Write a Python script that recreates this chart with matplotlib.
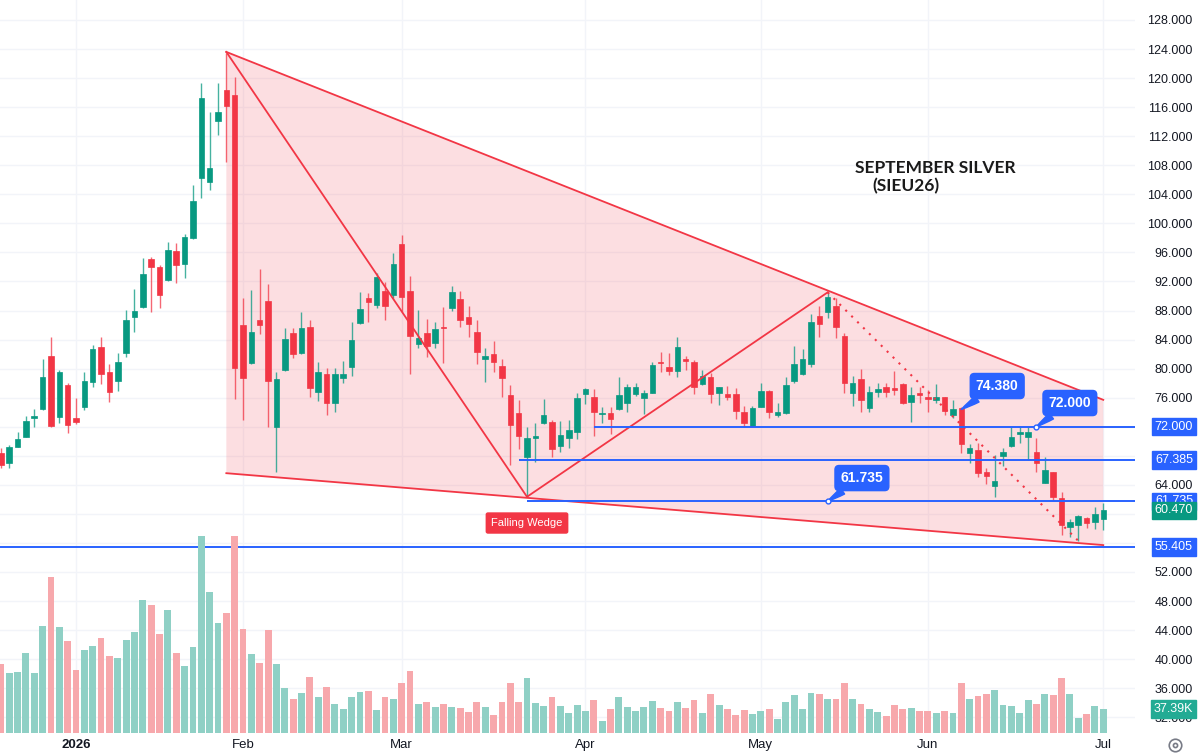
import matplotlib
matplotlib.use('Agg')
import matplotlib.pyplot as plt
import matplotlib.transforms as mtransforms
import numpy as np
import pandas as pd

plt.rcParams['font.family'] = ['Liberation Sans', 'DejaVu Sans']

# trading calendar (CME silver, daily bars)
holidays = ['2025-12-25', '2026-01-01', '2026-01-19', '2026-02-16',
            '2026-04-03', '2026-05-25', '2026-06-19']
dates = pd.date_range('2025-12-18', periods=133,
                      freq=pd.offsets.CustomBusinessDay(holidays=holidays))

opens = [
    68.37, 66.95, 69.24, 70.62, 73.26, 74.39, 81.73, 73.37, 77.74, 73.19,
    74.75, 78.19, 82.97, 79.57, 78.33, 82.14, 87.06, 88.52, 95.09, 93.98,
    92.19, 96.23, 94.40, 97.98, 106.24, 105.69, 114.13, 118.36, 117.67, 86.00,
    80.81, 86.69, 89.34, 71.99, 79.80, 84.86, 82.10, 85.76, 76.81, 79.25,
    75.22, 78.74, 80.17, 86.23, 89.67, 88.75, 90.72, 90.13, 97.11, 90.72,
    83.38, 84.86, 83.56, 85.76, 88.30, 89.58, 87.06, 84.99, 81.32, 82.00,
    80.39, 76.43, 73.84, 67.86, 70.48, 72.46, 72.60, 69.38, 70.40, 71.30,
    76.45, 76.13, 73.74, 73.84, 74.39, 75.30, 76.45, 75.90, 76.68, 80.86,
    80.17, 79.70, 81.32, 80.86, 77.83, 78.88, 76.59, 76.45, 76.50, 73.98,
    72.09, 74.75, 76.95, 73.60, 73.84, 78.33, 79.25, 80.70, 87.24, 87.83,
    88.62, 84.52, 76.70, 78.56, 74.53, 76.73, 77.50, 77.28, 77.83, 75.36,
    76.59, 76.04, 75.67, 76.04, 73.60, 74.61, 68.33, 68.79, 65.72, 63.87,
    67.96, 69.34, 70.99, 70.62, 68.55, 64.28, 65.72, 62.13, 58.14, 58.46,
    59.38, 58.83, 59.26]
highs = [
    69.06, 69.47, 71.26, 73.51, 74.43, 81.32, 84.35, 79.80, 78.01, 75.94,
    79.53, 83.24, 84.35, 80.63, 82.14, 88.06, 90.95, 95.22, 95.36, 94.26,
    97.43, 97.29, 98.53, 105.28, 119.36, 115.33, 119.32, 123.49, 120.19, 89.76,
    90.82, 93.71, 91.60, 79.57, 85.54, 85.54, 87.75, 86.69, 80.95, 80.04,
    80.04, 81.08, 86.37, 90.58, 90.36, 93.12, 91.96, 95.87, 98.39, 92.74,
    88.06, 86.83, 86.37, 88.43, 91.41, 90.72, 88.66, 86.69, 82.79, 83.84,
    81.32, 77.74, 75.67, 71.99, 72.46, 75.81, 72.92, 72.82, 72.92, 76.59,
    77.36, 77.14, 74.75, 74.67, 78.80, 77.87, 77.97, 77.05, 80.95, 82.32,
    82.18, 84.31, 81.73, 81.18, 79.80, 79.35, 77.50, 77.60, 77.28, 74.89,
    74.89, 77.97, 77.05, 75.22, 78.80, 83.15, 82.69, 87.52, 88.62, 90.54,
    89.67, 84.90, 79.04, 79.90, 77.60, 77.97, 77.97, 79.70, 77.97, 77.42,
    77.50, 77.05, 77.83, 76.13, 75.67, 74.75, 69.61, 69.71, 66.27, 68.10,
    69.02, 71.99, 71.91, 72.00, 70.40, 67.78, 65.80, 62.96, 59.24, 59.84,
    59.52, 60.98, 61.53]
lows = [
    66.31, 66.31, 69.20, 70.53, 71.95, 74.29, 72.00, 72.50, 71.13, 72.37,
    74.29, 77.50, 77.87, 75.39, 76.95, 81.63, 85.08, 88.40, 87.83, 88.34,
    92.10, 91.82, 92.47, 97.90, 103.49, 104.59, 112.16, 108.48, 75.77, 72.92,
    80.70, 84.72, 71.99, 65.72, 79.70, 81.41, 82.00, 76.13, 75.53, 73.60,
    73.98, 78.05, 79.02, 86.10, 86.37, 88.30, 86.69, 89.67, 87.83, 79.21,
    82.87, 81.63, 82.87, 80.72, 87.97, 85.68, 84.31, 80.63, 78.19, 79.48,
    76.13, 66.72, 68.88, 62.35, 67.17, 72.37, 67.86, 68.47, 69.02, 70.26,
    75.12, 70.71, 72.46, 70.99, 74.29, 74.06, 76.22, 73.74, 76.59, 79.48,
    79.11, 78.88, 79.80, 76.45, 77.74, 75.30, 74.98, 75.67, 73.01, 71.91,
    72.00, 74.70, 73.15, 73.37, 73.80, 78.05, 79.11, 80.26, 84.31, 86.92,
    84.17, 76.70, 74.84, 73.98, 73.98, 76.13, 76.13, 76.36, 75.12, 72.60,
    75.22, 74.06, 75.30, 73.60, 73.15, 68.33, 66.95, 65.11, 64.10, 62.27,
    66.62, 69.24, 69.79, 67.41, 65.80, 64.20, 61.90, 57.08, 56.85, 56.30,
    58.00, 57.91, 57.77]
closes = [
    66.72, 69.24, 70.30, 72.82, 73.37, 78.88, 72.09, 79.57, 72.23, 72.64,
    78.33, 82.69, 79.25, 76.81, 80.95, 86.69, 87.97, 93.02, 94.03, 90.13,
    96.33, 94.26, 98.12, 103.07, 117.26, 107.66, 115.33, 116.15, 80.12, 78.66,
    84.99, 86.00, 78.33, 78.56, 84.03, 82.00, 85.63, 77.36, 79.57, 75.22,
    79.25, 79.25, 83.93, 88.20, 89.12, 92.65, 88.66, 94.36, 89.89, 84.48,
    84.25, 83.11, 85.41, 85.62, 90.58, 86.69, 86.14, 82.32, 81.73, 80.97,
    78.66, 72.23, 70.71, 70.40, 70.71, 73.60, 68.92, 70.85, 71.54, 75.90,
    77.14, 73.98, 73.92, 73.01, 76.36, 77.42, 77.50, 76.68, 80.49, 80.72,
    79.70, 82.93, 81.04, 77.50, 79.02, 76.50, 77.42, 76.04, 74.20, 72.55,
    74.53, 76.95, 74.06, 74.06, 77.74, 80.63, 81.32, 86.48, 86.14, 89.86,
    85.76, 78.08, 77.97, 75.67, 76.73, 77.19, 76.73, 77.05, 75.30, 76.36,
    76.36, 75.81, 76.04, 74.16, 74.43, 69.61, 69.10, 65.66, 65.25, 64.56,
    68.47, 70.62, 71.22, 71.30, 66.95, 66.03, 62.35, 58.46, 58.91, 59.70,
    58.77, 59.93, 60.47]
# volume in thousands of contracts
volumes = [
    108, 94, 96, 125, 94, 168, 245, 166, 145, 99,
    130, 137, 149, 121, 117, 146, 159, 209, 201, 155,
    193, 125, 105, 135, 310, 221, 172, 188, 310, 163,
    124, 110, 161, 108, 70, 54, 63, 88, 56, 72,
    46, 38, 56, 65, 66, 36, 57, 54, 79, 97,
    46, 48, 41, 46, 41, 40, 33, 48, 41, 28,
    48, 79, 49, 86, 47, 43, 56, 43, 31, 44,
    35, 52, 19, 38, 57, 41, 35, 41, 50, 40,
    35, 48, 40, 52, 32, 62, 44, 38, 28, 36,
    30, 35, 37, 22, 48, 60, 37, 63, 61, 54,
    53, 78, 53, 46, 37, 33, 26, 44, 38, 40,
    35, 35, 31, 35, 31, 79, 54, 58, 62, 68,
    44, 43, 32, 52, 46, 61, 59, 87, 62, 24,
    30, 43, 37.39]

# drawings (bar index, price)
wedge_top = [(27, 123.6), (132, 75.7)]
wedge_bottom = [(27, 65.6), (132, 55.7)]
swing_pts = [(27, 123.6), (63, 62.35), (99, 90.5)]
dotted_pts = [(99, 90.5), (129, 56.3)]
level_prices = [72.000, 67.385, 61.735, 55.405]
level_starts = [71, 62, 63, -1]
callout_texts = ['74.380', '72.000', '61.735']
callout_anchor = [(115, 74.38), (124, 72.0), (99, 61.735)]
callout_box = [(119.3, 77.6), (128.0, 75.26), (103.1, 64.93)]

GREEN = '#089981'
RED = '#f23645'
BLUE = '#2962ff'

x = np.arange(len(dates))
o = np.array(opens); h = np.array(highs); l = np.array(lows); c = np.array(closes)
up = c >= o
cols = np.where(up, GREEN, RED)
vcols = np.where(up, '#8fd0c5', '#f7a8ac')

fig = plt.figure(figsize=(12, 7.54), dpi=100)
ax = fig.add_axes([0, 21 / 754, 1135 / 1200, 733 / 754])
vax = ax.twinx()  # volume overlay (twinx moves ax ticks left, so set them after)
ax.set_xlim(-0.1, 135.8)
ax.set_ylim(29.83, 130.75)
for s in list(ax.spines.values()) + list(vax.spines.values()):
    s.set_visible(False)

# month ticks
month_pos = [i for i in range(1, len(dates)) if dates[i].month != dates[i - 1].month]
month_lbl = ['2026' if dates[i].month == 1 else dates[i].strftime('%b') for i in month_pos]
ax.set_xticks(month_pos)
ax.set_xticklabels(month_lbl)
for t in ax.get_xticklabels():
    if t.get_text() == '2026':
        t.set_fontweight('bold')
ax.tick_params(axis='x', length=0, pad=4, labelsize=9.5, colors='#131722')

yt = np.arange(32, 129, 4)
ax.set_yticks(yt)
ax.set_yticklabels([f'{v:.3f}' for v in yt])
ax.tick_params(axis='y', length=0, pad=41.5, labelsize=9, colors='#131722',
               left=False, labelleft=False, right=False, labelright=True)
for tk in ax.yaxis.get_major_ticks():
    tk.label2.set_horizontalalignment('right')
ax.grid(True, color='#f2f4f9', lw=1)
ax.set_axisbelow(True)

# wedge shading and lines
poly_x = [wedge_top[0][0], wedge_top[1][0], wedge_bottom[1][0], wedge_bottom[0][0]]
poly_y = [wedge_top[0][1], wedge_top[1][1], wedge_bottom[1][1], wedge_bottom[0][1]]
ax.fill(poly_x, poly_y, color=RED, alpha=0.16, lw=0, zorder=1)
ax.plot(*zip(*wedge_top), color=RED, lw=1.3, zorder=4)
ax.plot(*zip(*wedge_bottom), color=RED, lw=1.3, zorder=4)
ax.plot(*zip(*swing_pts), color=RED, lw=1.3, zorder=4)
ax.plot(*zip(*dotted_pts), color=RED, lw=1.5, ls=(0, (1, 3)), zorder=4)

# candles
ax.vlines(x, l, h, colors=cols, lw=1, alpha=0.75, zorder=3)
body_lo = np.minimum(o, c)
body_h = np.maximum(np.abs(c - o), 0.15)
ax.bar(x, body_h, bottom=body_lo, width=0.66, color=cols, edgecolor=cols, lw=0.5, zorder=3)

# horizontal levels
for p, s in zip(level_prices, level_starts):
    ax.hlines(p, s if s >= 0 else -0.1, 135.8, color=BLUE, lw=1.4, zorder=4)

# callouts
for txt, (ax_, ay), (bx, by) in zip(callout_texts, callout_anchor, callout_box):
    ax.annotate(txt, xy=(ax_, ay), xytext=(bx, by), ha='center', va='center',
                color='white', fontsize=10, fontweight='bold', zorder=7,
                bbox=dict(boxstyle='round,pad=0.4,rounding_size=0.3', fc=BLUE, ec=BLUE),
                arrowprops=dict(arrowstyle='wedge,tail_width=0.5,shrink_factor=0.6',
                                fc=BLUE, ec=BLUE, shrinkA=0, shrinkB=0))
ax.plot([a[0] for a in callout_anchor[1:]], [a[1] for a in callout_anchor[1:]], 'o',
        ms=3.5, mfc='white', mec=BLUE, mew=1, zorder=8)

ax.text(63, 58.74, 'Falling Wedge', ha='center', va='center', color='white', fontsize=8,
        zorder=7, bbox=dict(boxstyle='round,pad=0.45,rounding_size=0.15', fc=RED, ec=RED))

ax.text(102.3, 107.6, 'SEPTEMBER SILVER', ha='left', va='center', fontsize=12.5,
        fontweight='bold', color='#1a1a1a', family=['Lato', 'DejaVu Sans'])
ax.text(104.3, 105.1, '(SIEU26)', ha='left', va='center', fontsize=12.5,
        fontweight='bold', color='#1a1a1a', family=['Lato', 'DejaVu Sans'])

# right scale badges
trans = mtransforms.blended_transform_factory(ax.transAxes, ax.transData)
badge_vals = level_prices + [closes[-1]]
badge_cols = [BLUE, BLUE, BLUE, BLUE, GREEN]
for v, col in zip(badge_vals, badge_cols):
    ax.text(1193 / 1135, v, f'{v:.3f}', transform=trans, ha='right', va='center',
            color='white', fontsize=9, clip_on=False, zorder=9,
            bbox=dict(boxstyle='square,pad=0.22', fc=col, ec=col))

# volume pane
vax.set_ylim(0, 1151)
vax.bar(x, volumes, width=0.82, color=vcols, zorder=2)
vax.set_yticks([])
vax.tick_params(axis='y', right=False, labelright=False, left=False, labelleft=False)
vtrans = mtransforms.blended_transform_factory(vax.transAxes, vax.transData)
vax.text(1193 / 1135, volumes[-1], f'{volumes[-1]:.2f}K', transform=vtrans, ha='right',
         va='center', color='white', fontsize=9, clip_on=False, zorder=9,
         bbox=dict(boxstyle='square,pad=0.22', fc='#22ab94', ec='#22ab94'))

# settings icon
fig.lines.append(plt.Line2D([1175 / 1200], [9 / 754], transform=fig.transFigure, marker='o',
                            ms=9, mfc='white', mec='#787b86', mew=1.2))
fig.lines.append(plt.Line2D([1175 / 1200], [9 / 754], transform=fig.transFigure, marker='o',
                            ms=3, mfc='white', mec='#787b86', mew=1.2))

fig.savefig('out.png', dpi=100)
